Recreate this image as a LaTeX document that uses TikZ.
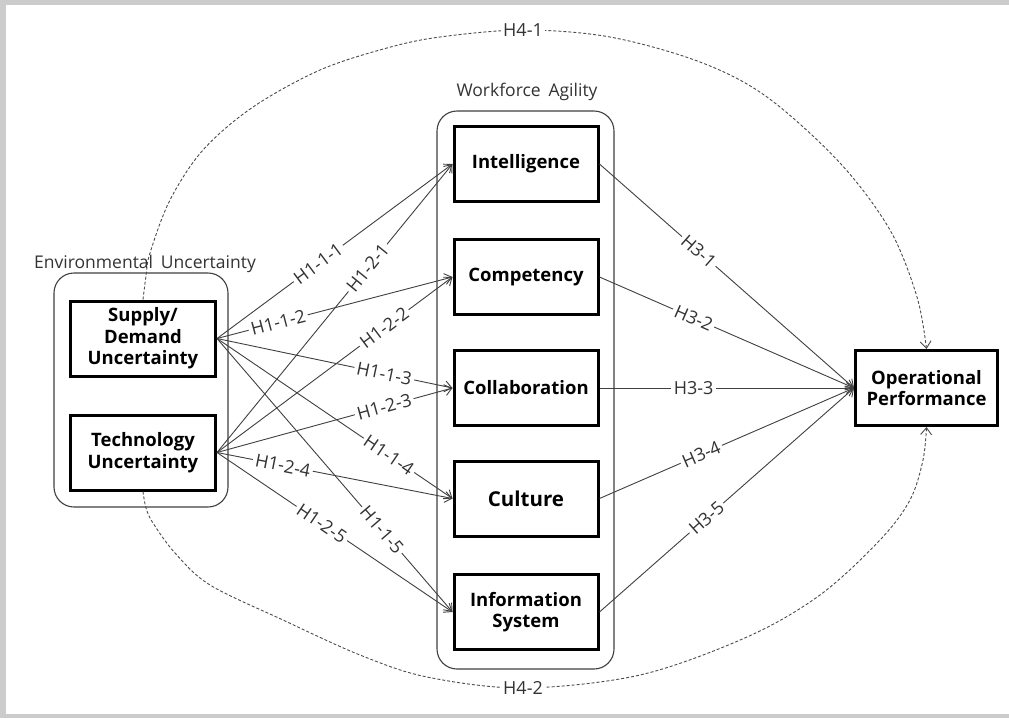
\documentclass[tikz,border=0pt]{standalone}
\usepackage{fontspec}
\setmainfont{Open Sans}
\usetikzlibrary{arrows.meta}
\begin{document}
\begin{tikzpicture}[x=1pt,y=-1pt,
  box/.style={draw=black, line width=3pt, fill=white, minimum width=144pt, minimum height=75pt,
    align=center, inner sep=2pt, font=\fontsize{18.5}{21.5}\selectfont\bfseries},
  grp/.style={draw=black!75, line width=1.1pt, rounded corners=20pt},
  lbl/.style={fill=white, inner sep=2.5pt, sloped, text=black!80, font=\fontsize{18}{19}\selectfont},
  hlbl/.style={fill=white, inner sep=2.5pt, text=black!80, font=\fontsize{18}{19}\selectfont},
  grpcaption/.style={text=black!80, font=\fontsize{17.5}{20}\selectfont},
  arr/.style={draw=black!75, line width=0.9pt, -{Straight Barb[length=7pt,width=11pt]}},
  hyp/.style={draw=black!70, line width=0.9pt, dash pattern=on 3pt off 2pt,
    -{Straight Barb[length=7pt,width=11pt]}},
]
% frame
\fill[white] (0,0) rectangle (1009,718);
\fill[black!20] (0,0) rectangle (1009,4.5);
\fill[black!20] (0,0) rectangle (6,718);
\fill[black!20] (0,713.5) rectangle (1009,718);
\useasboundingbox (0,0) rectangle (1009,718);

% groups
\node[grp, minimum width=174pt, minimum height=234pt] (env) at (141,390) {};
\node[grp, minimum width=177pt, minimum height=558pt] (wa) at (525.5,390) {};
\node[grpcaption] (envcap) at (145,264) {Environmental\hspace{0.45em}Uncertainty};
\node[grpcaption] (wacap) at (527,92) {Workforce\hspace{0.45em}Agility};

% boxes
\node[box, minimum width=145pt] (sd) at (143,338.5) {Supply/\\Demand\\Uncertainty};
\node[box, minimum width=145pt] (tech) at (143,452.5) {Technology\\Uncertainty};
\node[box] (intel) at (526,164) {Intelligence};
\node[box] (comp) at (526,277) {Competency};
\node[box] (collab) at (526,388) {Collaboration};
\node[box, font=\fontsize{20.5}{24}\selectfont\bfseries] (cult) at (526,498.5) {Culture};
\node[box] (info) at (526,612) {Information\\System};
\node[box, minimum width=142pt, minimum height=75pt] (op) at (926.5,388) {Operational\\Performance};

% H1 arrows
\draw[arr] (sd.east) -- (intel.west);
\draw[arr] (sd.east) -- (comp.west);
\draw[arr] (sd.east) -- (collab.west);
\draw[arr] (sd.east) -- (cult.west);
\draw[arr] (sd.east) -- (info.west);
\draw[arr] (tech.east) -- (intel.west);
\draw[arr] (tech.east) -- (comp.west);
\draw[arr] (tech.east) -- (collab.west);
\draw[arr] (tech.east) -- (cult.west);
\draw[arr] (tech.east) -- (info.west);
% H3 arrows
\draw[arr] (intel.east) -- (op.west);
\draw[arr] (comp.east) -- (op.west);
\draw[arr] (collab.east) -- (op.west);
\draw[arr] (cult.east) -- (op.west);
\draw[arr] (info.east) -- (op.west);

% labels
\path (sd.east) -- (intel.west) node[lbl, pos=0.43] (l111) {H1-1-1};
\path (sd.east) -- (comp.west) node[lbl, pos=0.26] (l112) {H1-1-2};
\path (sd.east) -- (collab.west) node[lbl, pos=0.71] (l113) {H1-1-3};
\path (sd.east) -- (cult.west) node[lbl, pos=0.73] (l114) {H1-1-4};
\path (sd.east) -- (info.west) node[lbl, pos=0.70] (l115) {H1-1-5};
\path (tech.east) -- (intel.west) node[lbl, pos=0.64] (l121) {H1-2-1};
\path (tech.east) -- (comp.west) node[lbl, pos=0.71] (l122) {H1-2-2};
\path (tech.east) -- (collab.west) node[lbl, pos=0.71] (l123) {H1-2-3};
\path (tech.east) -- (cult.west) node[lbl, pos=0.28] (l124) {H1-2-4};
\path (tech.east) -- (info.west) node[lbl, pos=0.445] (l125) {H1-2-5};
\path (intel.east) -- (op.west) node[lbl, pos=0.39] (l31) {H3-1};
\path (comp.east) -- (op.west) node[lbl, pos=0.37] (l32) {H3-2};
\path (collab.east) -- (op.west) node[lbl, pos=0.37] (l33) {H3-3};
\path (cult.east) -- (op.west) node[lbl, pos=0.40] (l34) {H3-4};
\path (info.east) -- (op.west) node[lbl, pos=0.42] (l35) {H3-5};

% H4 arcs
\draw[hyp] plot[smooth, tension=0.55] coordinates {(sd.north) (146,276) (150,253) (170,200) (203,150)
  (253,107) (320,70) (387,48) (440,37) (523,30) (610,37) (700,62) (767,97) (840,163)
  (890,230) (917,297) (op.north)};
\draw[hyp] plot[smooth, tension=0.55] coordinates {(tech.south) (146,508) (153,523) (175,553) (210,585)
  (283,620) (360,655) (427,677) (523,688) (640,675) (747,637) (820,595) (880,540) (910,500)
  (923,460) (op.south)};
\node[hlbl] (h41) at (523,30) {H4-1};
\node[hlbl] (h42) at (523,688) {H4-2};
\end{tikzpicture}
\end{document}
